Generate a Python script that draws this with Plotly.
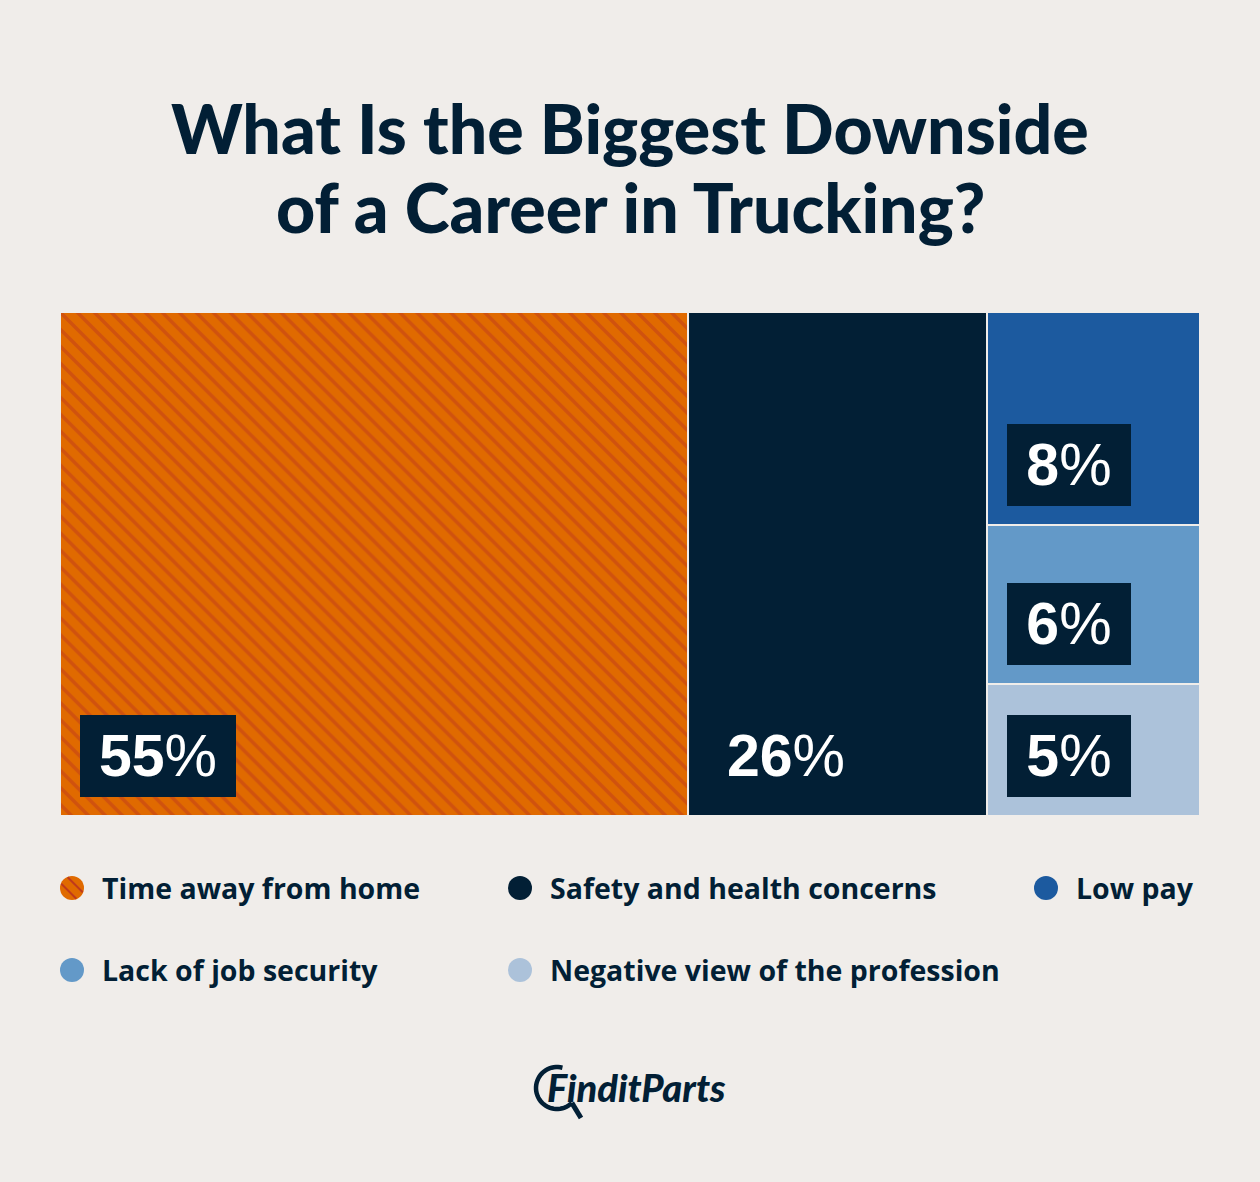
import math
import plotly.graph_objects as go

# ---------------- data ----------------
categories = [
    "Time away from home",
    "Safety and health concerns",
    "Low pay",
    "Lack of job security",
    "Negative view of the profession",
]
# shares (labels show them rounded)
values = [55.1, 26.2, 7.9, 5.9, 4.9]
colors = ["#E06A00", "#021F35", "#1C5A9F", "#6399C8", "#ACC2DA"]
# treemap-style grouping: first two categories get their own column,
# the remaining three share the last column (stacked, first on top)
col_groups = [[0], [1], [2, 3, 4]]

title_lines = ["What Is the Biggest Downside", "of a Career in Trucking?"]
brand = "FinditParts"

# ---------------- style ----------------
W, H = 1260, 1182
BG = "#F0EDEA"
NAVY = "#021F35"
STRIPE = "#BF3A1C"
LABEL_FONT = "Liberation Sans, Arial, sans-serif"
TEXT_FONT = "Lato, sans-serif"
LEGEND_FONT = "Open Sans, sans-serif"

fig = go.Figure()
annotations = []
shapes = []

# ---------------- treemap blocks ----------------
x_start = 0.0
for group in col_groups:
    col_total = sum(values[i] for i in group)
    y_base = 0.0
    for i in reversed(group):
        h = values[i] / col_total
        marker = dict(color=colors[i], line=dict(color=BG, width=2))
        if i == 0:
            marker["pattern"] = dict(shape="\\", fgcolor=STRIPE, size=12,
                                     solidity=0.3, fillmode="overlay")
        fig.add_trace(go.Bar(
            x=[x_start + col_total / 2], y=[h], base=[y_base], width=[col_total],
            marker=marker, name=categories[i], showlegend=False,
            hovertemplate=f"{categories[i]}: {round(values[i])}%<extra></extra>",
            xaxis="x", yaxis="y",
        ))
        pct = round(values[i])
        annotations.append(dict(
            x=x_start, y=y_base, xref="x", yref="y",
            xanchor="left", yanchor="bottom", xshift=20, yshift=19,
            text=f"<b>{pct}</b>%",
            width=156 if pct >= 10 else 124, height=82,
            bgcolor=NAVY, borderpad=0, borderwidth=0,
            align="center", valign="middle", showarrow=False,
            font=dict(family=LABEL_FONT, size=59, color="white"),
        ))
        y_base += h
    x_start += col_total

# ---------------- legend (custom, circles + text) ----------------
leg_x = [72, 520, 1046, 72, 520]
leg_y = [888, 888, 888, 970, 970]
fig.add_trace(go.Scatter(
    x=leg_x, y=leg_y, mode="markers", xaxis="x2", yaxis="y2",
    marker=dict(size=24, color=colors, line=dict(width=0)),
    showlegend=False, hoverinfo="skip",
))
# stripes on the first legend dot
r = 12
for d in (-4.5, 4.5):
    L = math.sqrt(r * r - d * d) - 0.5
    cx = leg_x[0] + d / math.sqrt(2)
    cy = leg_y[0] - d / math.sqrt(2)
    ux, uy = 1 / math.sqrt(2), 1 / math.sqrt(2)
    shapes.append(dict(type="line", xref="x2", yref="y2",
                       x0=cx - L * ux, y0=cy - L * uy, x1=cx + L * ux, y1=cy + L * uy,
                       line=dict(color=STRIPE, width=2), layer="above"))
for k, cat in enumerate(categories):
    annotations.append(dict(
        x=leg_x[k] + 28, y=leg_y[k], xref="x2", yref="y2",
        xanchor="left", yanchor="middle", text=cat, showarrow=False,
        font=dict(family=LEGEND_FONT, size=28.5, color=NAVY, weight=700),
    ))

# ---------------- title ----------------
for line, yc in zip(title_lines, [127, 206]):
    annotations.append(dict(
        x=630, y=yc, xref="x2", yref="y2", xanchor="center", yanchor="middle",
        text=line, showarrow=False,
        font=dict(family=TEXT_FONT, size=68, color=NAVY, weight=900),
    ))

# ---------------- brand logo ----------------
annotations.append(dict(
    x=545, y=1087, xref="x2", yref="y2", xanchor="left", yanchor="middle",
    text=brand, showarrow=False,
    font=dict(family=TEXT_FONT, size=38, color=NAVY, weight=900, style="italic"),
))
lcx, lcy, lr = 557, 1088, 21
pts = []
for k in range(41):
    a = math.radians(75 + (315 - 75) * k / 40)
    pts.append((lcx + lr * math.cos(a), lcy - lr * math.sin(a)))
path = "M " + " L ".join(f"{px:.2f},{py:.2f}" for px, py in pts)
shapes.append(dict(type="path", xref="x2", yref="y2", path=path,
                   line=dict(color=NAVY, width=4.5), layer="above"))
a = math.radians(315)
shapes.append(dict(type="line", xref="x2", yref="y2",
                   x0=lcx + lr * math.cos(a), y0=lcy - lr * math.sin(a),
                   x1=581, y1=1118, line=dict(color=NAVY, width=5), layer="above"))

# ---------------- layout ----------------
fig.update_layout(
    width=W, height=H,
    margin=dict(l=0, r=0, t=0, b=0),
    paper_bgcolor=BG, plot_bgcolor="rgba(0,0,0,0)",
    barmode="overlay", bargap=0,
    xaxis=dict(domain=[60 / W, 1200 / W], range=[0, 100], visible=False,
               fixedrange=True, anchor="y"),
    yaxis=dict(domain=[1 - 816 / H, 1 - 312 / H], range=[0, 1], visible=False,
               fixedrange=True, anchor="x"),
    xaxis2=dict(domain=[0, 1], range=[0, W], visible=False, fixedrange=True, anchor="y2"),
    yaxis2=dict(domain=[0, 1], range=[H, 0], visible=False, fixedrange=True, anchor="x2"),
    annotations=annotations,
    shapes=shapes,
    showlegend=False,
)

fig.write_html("out.html", config={"displayModeBar": False},
               post_script="document.body.style.margin='0';")
